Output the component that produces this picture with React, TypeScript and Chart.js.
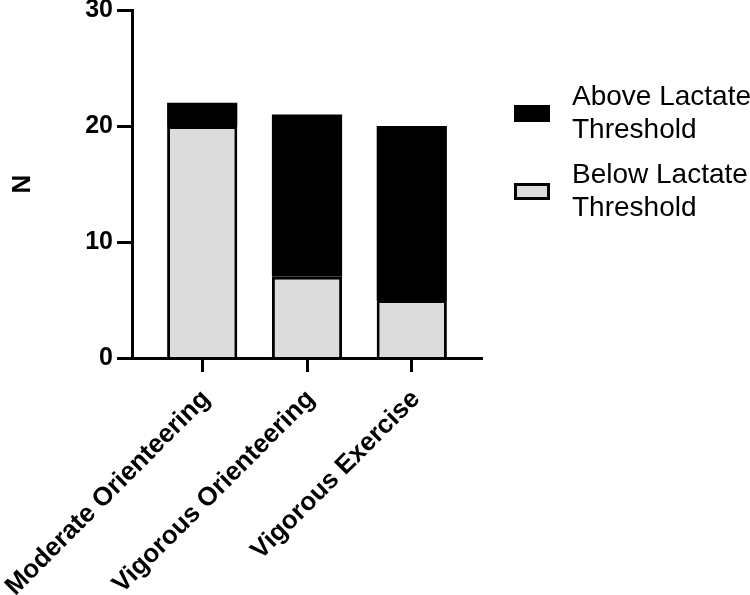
import React, { useEffect, useRef } from 'react';
import { Chart, registerables } from 'chart.js';

Chart.register(...registerables);

const categories = ['Moderate Orienteering', 'Vigorous Orienteering', 'Vigorous Exercise'];
const belowValues = [20, 7, 5];
const aboveValues = [2, 14, 15];
const belowLabel = ['Below Lactate', 'Threshold'];
const aboveLabel = ['Above Lactate', 'Threshold'];
const yTicks = [0, 10, 20, 30];
const yTitle = 'N';

const FONT = '"Liberation Sans", Arial, Helvetica, sans-serif';

const legendPlugin = {
  id: 'sideLegend',
  afterDraw(chart: any) {
    const ctx = chart.ctx as CanvasRenderingContext2D;
    const items = [...chart.data.datasets].reverse();
    const boxX = 514;
    const boxW = 36;
    const boxH = 17;
    const textX = 572;
    const firstLineY = 97;
    const lineGap = 33;
    const itemGap = 78;
    ctx.save();
    ctx.font = `28px ${FONT}`;
    ctx.textBaseline = 'middle';
    ctx.textAlign = 'left';
    items.forEach((ds: any, i: number) => {
      const top = firstLineY + i * itemGap;
      const lines: string[] = Array.isArray(ds.label) ? ds.label : [ds.label];
      const centerY = top + ((lines.length - 1) * lineGap) / 2;
      ctx.fillStyle = ds.backgroundColor;
      ctx.fillRect(boxX, centerY - boxH / 2, boxW, boxH);
      ctx.lineWidth = 3;
      ctx.strokeStyle = '#000';
      ctx.strokeRect(boxX + 1.5, centerY - boxH / 2 + 1.5, boxW - 3, boxH - 3);
      ctx.fillStyle = '#000';
      lines.forEach((ln, j) => ctx.fillText(ln, textX, top + j * lineGap));
    });
    ctx.restore();
  },
};

export default function App() {
  const ref = useRef<HTMLCanvasElement | null>(null);

  useEffect(() => {
    if (!ref.current) return;
    const chart = new Chart(ref.current, {
      type: 'bar',
      data: {
        datasets: [
          {
            label: belowLabel as any,
            data: belowValues.map((v, i) => ({ x: i, y: v })),
            backgroundColor: '#dcdcdc',
            borderColor: '#000',
            borderWidth: 3,
            borderSkipped: 'start',
            barPercentage: 0.67,
            categoryPercentage: 1,
          },
          {
            label: aboveLabel as any,
            data: aboveValues.map((v, i) => ({ x: i, y: v })),
            backgroundColor: '#000',
            borderColor: '#000',
            borderWidth: 0,
            barPercentage: 0.67,
            categoryPercentage: 1,
          },
        ],
      },
      options: {
        animation: false,
        responsive: true,
        maintainAspectRatio: false,
        layout: { padding: { top: 10, right: 268, bottom: 0, left: 0 } },
        plugins: {
          legend: { display: false },
          tooltip: { enabled: false },
        },
        scales: {
          x: {
            type: 'linear',
            stacked: true,
            offset: false,
            bounds: 'data',
            min: -0.67,
            max: 2.67,
            afterBuildTicks: (s: any) => {
              s.ticks = categories.map((_, i) => ({ value: i }));
            },
            afterFit: (s: any) => {
              s.height = 237;
              s.paddingLeft = 0;
              s.paddingRight = 0;
            },
            ticks: {
              autoSkip: false,
              maxRotation: 45,
              minRotation: 45,
              padding: 12,
              labelOffset: 4,
              color: '#000',
              font: { family: FONT, size: 26, weight: 'bold' },
              callback: (v: any) => categories[Math.round(Number(v))] ?? '',
            },
            grid: {
              display: true,
              offset: false,
              drawOnChartArea: false,
              drawTicks: true,
              tickLength: 14,
              tickWidth: 3,
              tickColor: '#000',
            },
            border: { display: true, width: 3, color: '#000', z: 1 },
          },
          y: {
            stacked: true,
            min: 0,
            max: 30,
            afterBuildTicks: (s: any) => {
              s.ticks = yTicks.map((v) => ({ value: v }));
            },
            afterFit: (s: any) => {
              s.width = 132;
              s.paddingTop = 0;
              s.paddingBottom = 0;
            },
            ticks: {
              padding: 4,
              color: '#000',
              font: { family: FONT, size: 25, weight: 'bold' },
            },
            grid: {
              display: true,
              drawOnChartArea: false,
              drawTicks: true,
              tickLength: 15,
              tickWidth: 3,
              tickColor: '#000',
            },
            border: { display: true, width: 3, color: '#000', z: 1 },
            title: {
              display: true,
              text: yTitle,
              color: '#000',
              font: { family: FONT, size: 26, weight: 'bold' },
              padding: { top: 7, bottom: 0 },
            },
          },
        },
      },
      plugins: [legendPlugin],
    });
    return () => chart.destroy();
  }, []);

  return (
    <div style={{ position: 'absolute', left: 0, top: 0, width: 750, height: 595, background: '#fff' }}>
      <canvas ref={ref} />
    </div>
  );
}
